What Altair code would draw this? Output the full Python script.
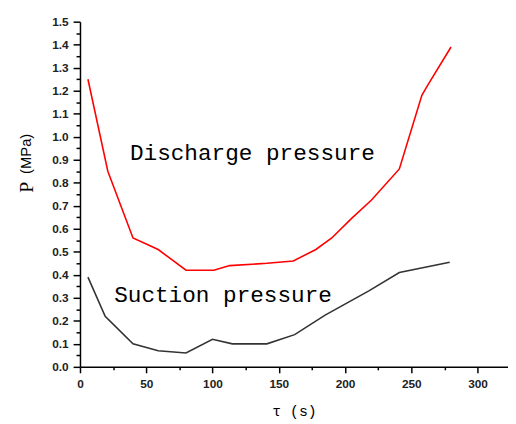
import altair as alt
import pandas as pd

# Discharge pressure (red)
dis_t = [6, 21, 40, 59, 80, 101, 113, 141, 161, 178, 190, 205, 220, 241, 258, 262, 280]
dis_p = [1.25, 0.85, 0.56, 0.51, 0.42, 0.42, 0.44, 0.45, 0.46, 0.51, 0.56, 0.645, 0.725, 0.86, 1.18, 1.22, 1.39]

# Suction pressure (black)
suc_t = [6, 19, 40, 59, 80, 100, 115, 141, 162, 185, 218, 241, 279]
suc_p = [0.39, 0.22, 0.10, 0.07, 0.06, 0.12, 0.10, 0.10, 0.14, 0.225, 0.33, 0.41, 0.455]

series_names = ["Discharge pressure", "Suction pressure"]
series_colors = ["#ff0000", "#333333"]

label_texts = ["Discharge pressure", "Suction pressure"]
label_t = [37.7, 25.8]
label_p = [0.90, 0.28]

x_ticks = [i * 25 for i in range(13)]
y_ticks = [round(i * 0.05, 2) for i in range(31)]

df = pd.DataFrame({
    "t": dis_t + suc_t,
    "p": dis_p + suc_p,
    "series": [series_names[0]] * len(dis_t) + [series_names[1]] * len(suc_t),
})
labels_df = pd.DataFrame({"t": label_t, "p": label_p, "text": label_texts})

x_scale = alt.Scale(domain=[0, 323], nice=False, zero=False)
y_scale = alt.Scale(domain=[0, 1.5], nice=False)

x_axis = alt.Axis(
    values=x_ticks,
    labelExpr="datum.value % 50 === 0 ? datum.value : ''",
    tickSize={"condition": {"test": "datum.value % 50 === 0", "value": 6}, "value": 3},
    title="τ (s)",
    titleFont="Liberation Mono",
    titleFontSize=15,
    titleFontWeight="normal",
    titlePadding=14,
    labelFont="Liberation Sans",
    labelFontSize=12,
    labelFontWeight="bold",
    labelColor="#222",
    labelPadding=6,
    labelOverlap=False,
    labelFlush=False,
    grid=False,
    domainColor="#000",
    domainWidth=1.5,
    tickColor="#000",
    tickWidth=1.5,
)

y_test = "abs(datum.value*10 - round(datum.value*10)) < 0.001"
y_axis = alt.Axis(
    values=y_ticks,
    labelExpr=f"{y_test} ? format(datum.value, '.1f') : ''",
    tickSize={"condition": {"test": y_test, "value": 7}, "value": 4},
    title=None,
    labelFont="Liberation Sans",
    labelFontSize=12,
    labelFontWeight="bold",
    labelColor="#222",
    labelPadding=5,
    labelOverlap=False,
    labelFlush=False,
    grid=False,
    domainColor="#000",
    domainWidth=1.5,
    tickColor="#000",
    tickWidth=1.5,
)

lines = alt.Chart(df).mark_line(strokeWidth=1.6).encode(
    x=alt.X("t:Q", scale=x_scale, axis=x_axis),
    y=alt.Y("p:Q", scale=y_scale, axis=y_axis),
    color=alt.Color("series:N", scale=alt.Scale(domain=series_names, range=series_colors), legend=None),
    order="t:Q",
)

texts = alt.Chart(labels_df).mark_text(
    font="Liberation Mono", fontSize=23, align="left", baseline="alphabetic", color="#000"
).encode(
    x=alt.X("t:Q", scale=x_scale, axis=x_axis),
    y=alt.Y("p:Q", scale=y_scale, axis=y_axis),
    text="text:N",
)

p_title = alt.Chart(pd.DataFrame({"s": ["P"]})).mark_text(
    font="Liberation Serif", fontSize=20, angle=270, align="center", baseline="middle", color="#000"
).encode(x=alt.value(-54), y=alt.value(168), text="s:N")

mpa_title = alt.Chart(pd.DataFrame({"s": ["(MPa)"]})).mark_text(
    font="Liberation Sans", fontSize=15, angle=270, align="center", baseline="middle", color="#000"
).encode(x=alt.value(-55), y=alt.value(134), text="s:N")

chart = alt.layer(lines, texts, p_title, mpa_title).properties(
    width=434,
    height=350,
    autosize=alt.AutoSizeParams(type="none"),
    padding={"left": 73, "top": 11, "right": 0, "bottom": 50},
    background="white",
).configure_view(stroke=None)

chart.save("out.html", embed_options={"renderer": "svg", "actions": False})
